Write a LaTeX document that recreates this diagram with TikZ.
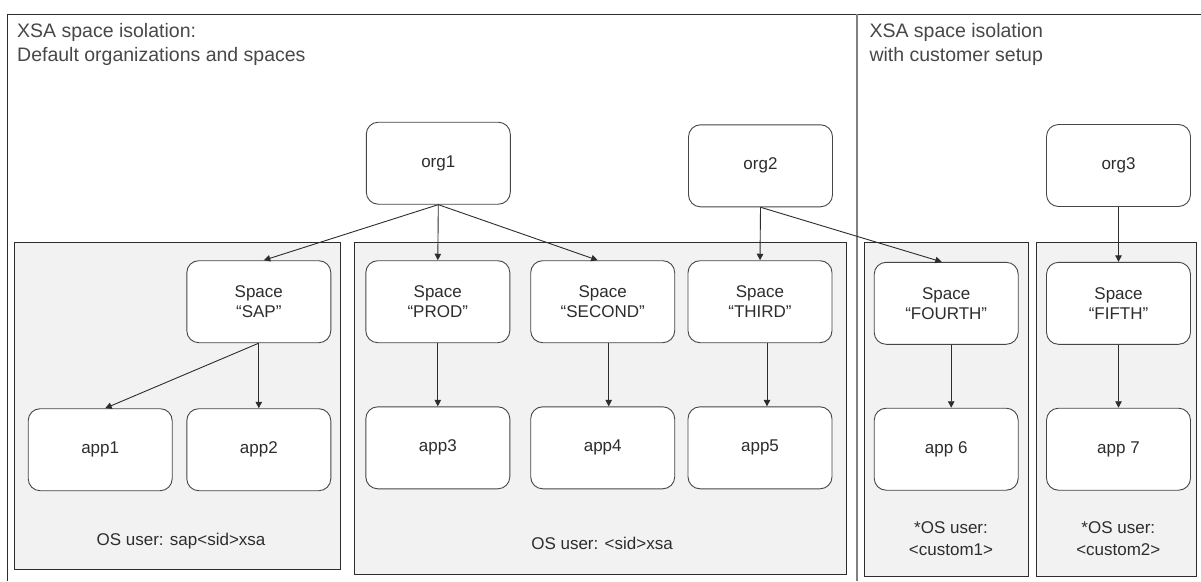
\documentclass[tikz,border=0pt]{standalone}
\usepackage{fontspec}
\setmainfont{Liberation Sans}
\usetikzlibrary{arrows.meta,positioning}
\definecolor{ink}{RGB}{45,45,45}
\definecolor{edge}{RGB}{70,70,70}
\definecolor{panel}{RGB}{242,242,242}
\definecolor{ttlgray}{RGB}{72,72,72}
\tikzset{
  bx/.style={rectangle,rounded corners=12pt,draw=edge,fill=white,minimum width=144pt,minimum height=82pt,
    font=\fontsize{17}{20}\selectfont,text=ink,align=center,inner sep=0pt,line width=0.9pt},
  pnl/.style={draw=ink,fill=panel,line width=0.9pt},
  arr/.style={-{Triangle[length=6.5pt,width=6.5pt]},draw=ink,line width=0.9pt},
  ttl/.style={anchor=north west,inner sep=0pt,align=left,text=ttlgray,font=\fontsize{19.5}{23.5}\selectfont},
  usr/.style={align=center,inner sep=0pt,text=ink,font=\fontsize{17}{21.5}\selectfont},
}

\begin{document}
\begin{tikzpicture}[x=1pt,y=-1pt]
\useasboundingbox (0,0) rectangle (1201,581);
\fill[white] (0,0) rectangle (1201,581);
\draw[ink,line width=0.9pt] (7,581) -- (7,14) -- (1201,14);
\draw[gray,line width=1.3pt] (857,14) -- (857,581);

\node[ttl] (title1) at (17,23.5) {XSA space isolation:\\Default organizations and spaces};
\node[ttl] (title2) at (869.3,23.5) {XSA space isolation\\with customer setup};

\draw[pnl] (14,242.3) rectangle (340.7,569.3);
\draw[pnl] (354,242.3) rectangle (846.7,574.3);
\draw[pnl] (864.3,242.3) rectangle (1028.3,576.5);
\draw[pnl] (1036.7,242.3) rectangle (1196,576.5);

\node[bx] (org1) at (438.3,163.2) {org1};
\node[bx] (org2) at (760.5,165.8) {org2};
\node[bx] (org3) at (1118.5,165.5) {org3};

\node[bx] (sap) at (258.8,301.7) {Space\\“SAP”};
\node[bx] (prod) at (437.8,301.7) {Space\\“PROD”};
\node[bx] (second) at (602.7,301.7) {Space\\“SECOND”};
\node[bx] (third) at (760,301.7) {Space\\“THIRD”};
\node[bx] (fourth) at (946.2,303.3) {Space\\“FOURTH”};
\node[bx] (fifth) at (1118.5,303.3) {Space\\“FIFTH”};

\node[bx] (app1) at (100.2,449.7) {app1};
\node[bx] (app2) at (258.8,449.7) {app2};
\node[bx] (app3) at (437.8,447.8) {app3};
\node[bx] (app4) at (602.7,447.8) {app4};
\node[bx] (app5) at (760,447.8) {app5};
\node[bx] (app6) at (946.2,449.2) {app 6};
\node[bx] (app7) at (1118.5,449.2) {app 7};

\node[usr] (user1) at (181,541) {OS user: sap<sid>xsa};
\node[usr] (user2) at (602,543) {OS user: <sid>xsa};
\node[usr] (user3) at (951,538.5) {*OS user:\\<custom1>};
\node[usr] (user4) at (1118.3,538.5) {*OS user:\\<custom2>};

\draw[arr] (org1.south) -- ([xshift=5pt]sap.north);
\draw[arr] (org1.south) -- (prod.north);
\draw[arr] (org1.south) -- ([xshift=-5pt]second.north);
\draw[arr] (org2.south) -- (third.north);
\draw[arr] (org2.south) -- ([xshift=-4.5pt]fourth.north);
\draw[arr] (org3.south) -- (fifth.north);

\draw[arr] (sap.south) -- ([xshift=5pt]app1.north);
\draw[arr] (sap.south) -- (app2.north);
\draw[arr] (prod.south) -- (app3.north);
\draw[arr] ([xshift=6pt]second.south) -- ([xshift=6pt]app4.north);
\draw[arr] ([xshift=7pt]third.south) -- ([xshift=7pt]app5.north);
\draw[arr] ([xshift=5pt]fourth.south) -- ([xshift=5pt]app6.north);
\draw[arr] (fifth.south) -- (app7.north);
\end{tikzpicture}
\end{document}
